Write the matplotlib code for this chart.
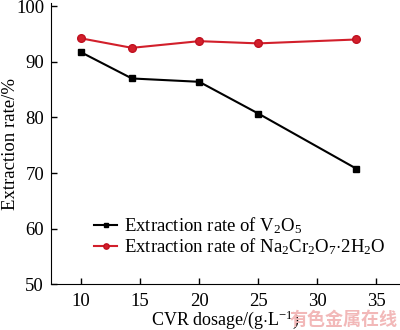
import matplotlib
matplotlib.use("Agg")
import matplotlib.pyplot as plt

plt.rcParams['font.family'] = ['Liberation Serif', 'DejaVu Serif']
plt.rcParams['mathtext.fontset'] = 'custom'
plt.rcParams['mathtext.rm'] = 'Liberation Serif'
plt.rcParams['mathtext.it'] = 'Liberation Serif:italic'
plt.rcParams['font.size'] = 13.5

# data
dosage = [10, 14.3, 20, 25, 33.3]
v2o5 = [91.7, 87.0, 86.4, 80.7, 70.8]
na2cr2o7 = [94.2, 92.5, 93.7, 93.3, 94.0]

xticks = [10, 15, 20, 25, 30, 35]
yticks = [50, 60, 70, 80, 90, 100]

fig = plt.figure(figsize=(4, 3.3), dpi=100)
ax = fig.add_axes([0.1275, 0.138, 0.8725, 0.852])

ax.plot(dosage, v2o5, color='black', marker='s', markersize=5, lw=1.5,
        label=r'Extraction rate of V$_2$O$_5$')
ax.plot(dosage, na2cr2o7, color='#d21f2b', marker='o', markersize=5.5, lw=1.5,
        markeredgecolor='#c01020',
        label=r'Extraction rate of Na$_2$Cr$_2$O$_7$$\cdot$2H$_2$O')

ax.set_xlim(7.45, 37)
ax.set_ylim(50, 100.5)
ax.set_xticks(xticks)
ax.set_yticks(yticks)
ax.tick_params(direction='in', length=4, width=1, labelsize=13.5)
ax.tick_params(axis='x', pad=6)
ax.tick_params(axis='y', pad=5)
ax.spines['top'].set_visible(False)
ax.spines['right'].set_visible(False)

ax.set_xlabel(r'CVR dosage/(g$\cdot$L$^{-1}$)', fontsize=13, labelpad=-1)
ax.set_ylabel('Extraction rate/%', fontsize=13.5)
ax.yaxis.set_label_coords(-0.092, 0.5)

ax.legend(loc='upper left', bbox_to_anchor=(0.123, 0.245), frameon=False,
          fontsize=13.5, handlelength=1.25, handletextpad=0.35,
          labelspacing=0.0, borderpad=0, borderaxespad=0, markerscale=0.7)

# watermark
fig.text(0.995, 0.003, '有色金属在线', family=['Noto Sans CJK SC'], fontsize=13,
         color='#f2b8b8', ha='right', va='bottom', weight='bold')

fig.savefig('out.png', dpi=100)
